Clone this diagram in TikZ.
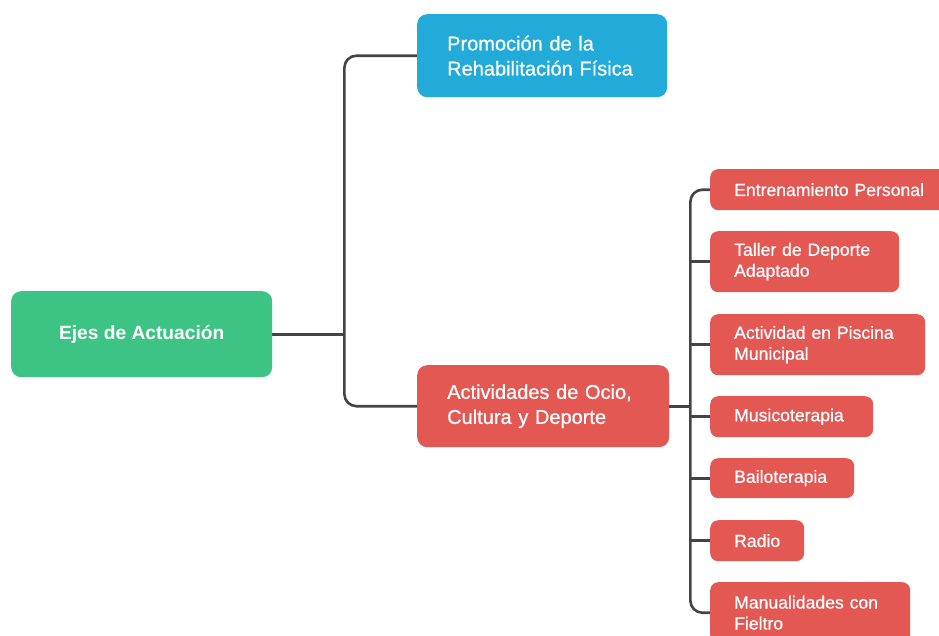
\documentclass[tikz,border=0pt]{standalone}
\usepackage{fontspec}
\setmainfont{Liberation Sans}
\newfontfamily\medfont[FakeBold=0.7]{Liberation Sans}
\usetikzlibrary{backgrounds}
\definecolor{cgreen}{RGB}{61,196,132}
\definecolor{cblue}{RGB}{34,170,216}
\definecolor{cred}{RGB}{228,88,84}
\definecolor{cline}{RGB}{68,68,68}
\tikzset{
  box/.style={anchor=north west, rounded corners=10pt, text=white, align=left, inner ysep=0pt},
  bigbox/.style={box, inner xsep=30pt, font=\medfont\fontsize{20}{25}\selectfont},
  kidbox/.style={box, fill=cred, rounded corners=8pt, inner xsep=24pt, font=\medfont\fontsize{17.6}{21}\selectfont},
  conn/.style={draw=cline, line width=2.6pt, rounded corners=12pt}
}
\begin{document}
\begin{tikzpicture}[x=1pt,y=-1pt]
\useasboundingbox (0,0) rectangle (939,635);
% level 0
\node[box, fill=cgreen, minimum width=261pt, minimum height=86pt, align=center,
      font=\bfseries\fontsize{19.2}{22}\selectfont] (ejes) at (11,291) {Ejes de Actuación};
% level 1
\node[bigbox, fill=cblue, text width=190pt, minimum height=83pt] (promo) at (417,14)
  {Promoción de la\\Rehabilitación Física};
\node[bigbox, fill=cred, text width=192pt, minimum height=82pt] (act) at (417,365)
  {Actividades de Ocio,\\Cultura y Deporte};
% level 2
\node[kidbox, text width=192pt, minimum height=41pt] (c1) at (710,169) {Entrenamiento Personal};
\node[kidbox, text width=141pt, minimum height=61pt] (c2) at (710,231) {Taller de Deporte\\Adaptado};
\node[kidbox, text width=167pt, minimum height=61pt] (c3) at (710,314) {Actividad en Piscina\\Municipal};
\node[kidbox, text width=115pt, minimum height=41pt] (c4) at (710,396) {Musicoterapia};
\node[kidbox, text width=96pt, minimum height=40pt] (c5) at (710,458) {Bailoterapia};
\node[kidbox, text width=46pt, minimum height=41pt] (c6) at (710,520) {Radio};
\node[kidbox, text width=152pt, minimum height=61pt] (c7) at (710,582) {Manualidades con\\Fieltro};
% connectors
\path (ejes.east) ++(72pt,0) coordinate (t1);
\path (act.east) ++(21pt,0) coordinate (t2);
\begin{pgfonlayer}{background}
\draw[conn] ([xshift=-11pt]ejes.east) -- (t1);
\draw[conn] ([xshift=11pt]promo.west) -| (t1) |- ([xshift=11pt]act.west);
\draw[conn] ([xshift=-12pt]act.east) -- (t2);
\draw[conn] ([xshift=12pt]c1.west) -| (t2) |- ([xshift=12pt]c7.west);
\draw[conn] (t2 |- c2.west) -- ([xshift=12pt]c2.west);
\draw[conn] (t2 |- c3.west) -- ([xshift=12pt]c3.west);
\draw[conn] (t2 |- c4.west) -- ([xshift=12pt]c4.west);
\draw[conn] (t2 |- c5.west) -- ([xshift=12pt]c5.west);
\draw[conn] (t2 |- c6.west) -- ([xshift=12pt]c6.west);
\end{pgfonlayer}
\end{tikzpicture}
\end{document}
